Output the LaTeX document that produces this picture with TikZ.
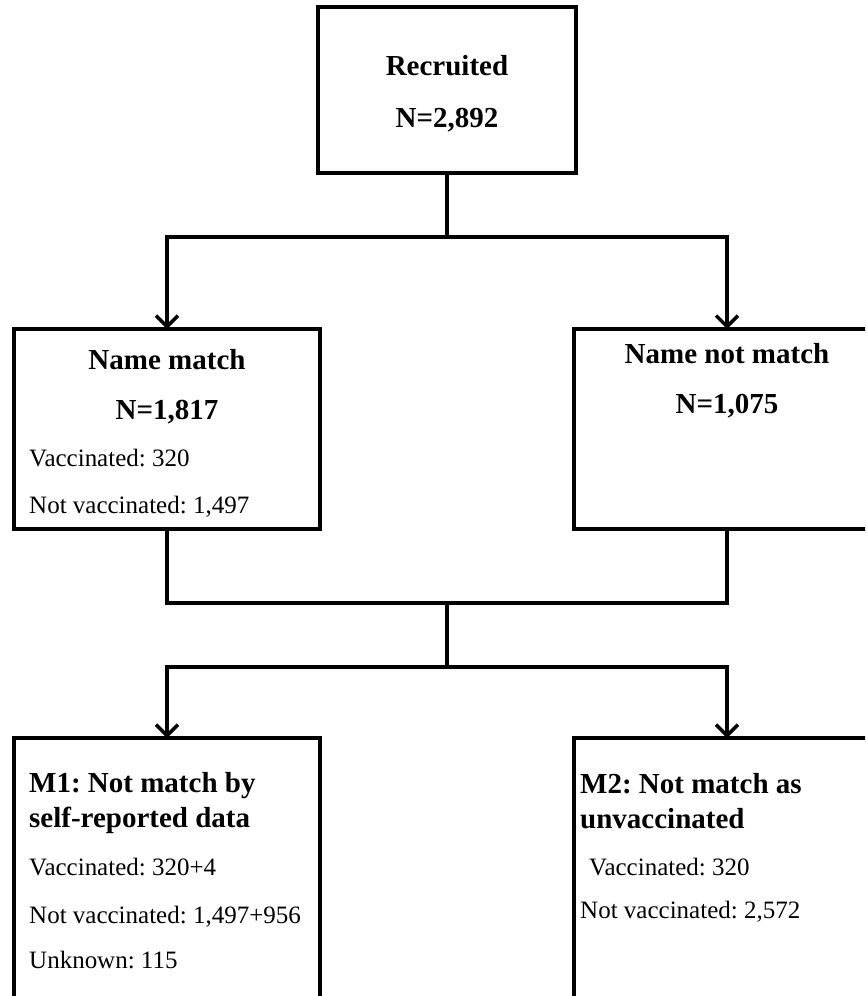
\documentclass[tikz,border=0pt]{standalone}
\usepackage{fontspec}
\setmainfont{Liberation Serif}
\usetikzlibrary{arrows.meta,positioning,calc}
\frenchspacing

\tikzset{
  box/.style={draw, line width=3.5pt, minimum width=306pt, inner sep=0pt, outer sep=0pt, anchor=north west},
  head/.style={font=\fontsize{29}{31}\selectfont\bfseries, anchor=base, inner sep=0pt},
  headl/.style={head, anchor=base west},
  txt/.style={font=\fontsize{25}{27}\selectfont, anchor=base west, inner sep=0pt},
  link/.style={line width=3.5pt},
  arr/.style={link, -{Straight Barb[length=11pt,width=22pt]}}
}

\begin{document}
\begin{tikzpicture}[x=1pt,y=-1pt]
  \useasboundingbox (0,0) rectangle (865,996);
  \clip (0,0) rectangle (865,996);

  \node[box, minimum width=258pt, minimum height=166pt] (rec) at (318,7) {};
  \node[box, minimum height=200pt] (match) at (14,329) {};
  \node[box, minimum height=200pt] (nomatch) at (574,329) {};
  \node[box, minimum height=300pt] (m1) at (14,738) {};
  \node[box, minimum height=300pt] (m2) at (574,738) {};

  \node[head] (recA) at (447,75) {Recruited};
  \node[head] (recB) at (447,127) {N=2,892};

  \node[head] (matchA) at (167,369) {Name match};
  \node[head] (matchB) at (167,419) {N=1,817};
  \node[txt] (matchC) at (29,466) {Vaccinated: 320};
  \node[txt] (matchD) at (29,513) {Not vaccinated: 1,497};

  \node[head] (nomatchA) at (727,363) {Name not match};
  \node[head] (nomatchB) at (727,413) {N=1,075};

  \node[headl] (m1A) at (29,792) {M1: Not match by};
  \node[headl] (m1B) at (29,827) {self-reported data};
  \node[txt] (m1C) at (29,875) {Vaccinated: 320+4};
  \node[txt] (m1D) at (29,923) {Not vaccinated: 1,497+956};
  \node[txt] (m1E) at (29,968) {Unknown: 115};

  \node[headl] (m2A) at (580,793) {M2: Not match as};
  \node[headl] (m2B) at (580,828) {unvaccinated};
  \node[txt] (m2C) at (589,875) {Vaccinated: 320};
  \node[txt] (m2D) at (580,918) {Not vaccinated: 2,572};

  \coordinate (split) at (447,237);
  \coordinate (join) at (447,603);
  \coordinate (split2) at (447,667);

  \draw[link] (rec.south) -- (split);
  \draw[arr] (split) -| (match.north);
  \draw[arr] (split) -| (nomatch.north);
  \draw[link] (match.south) |- (join) -| (nomatch.south);
  \draw[link] (join) -- (split2);
  \draw[arr] (split2) -| (m1.north);
  \draw[arr] (split2) -| (m2.north);
\end{tikzpicture}
\end{document}
